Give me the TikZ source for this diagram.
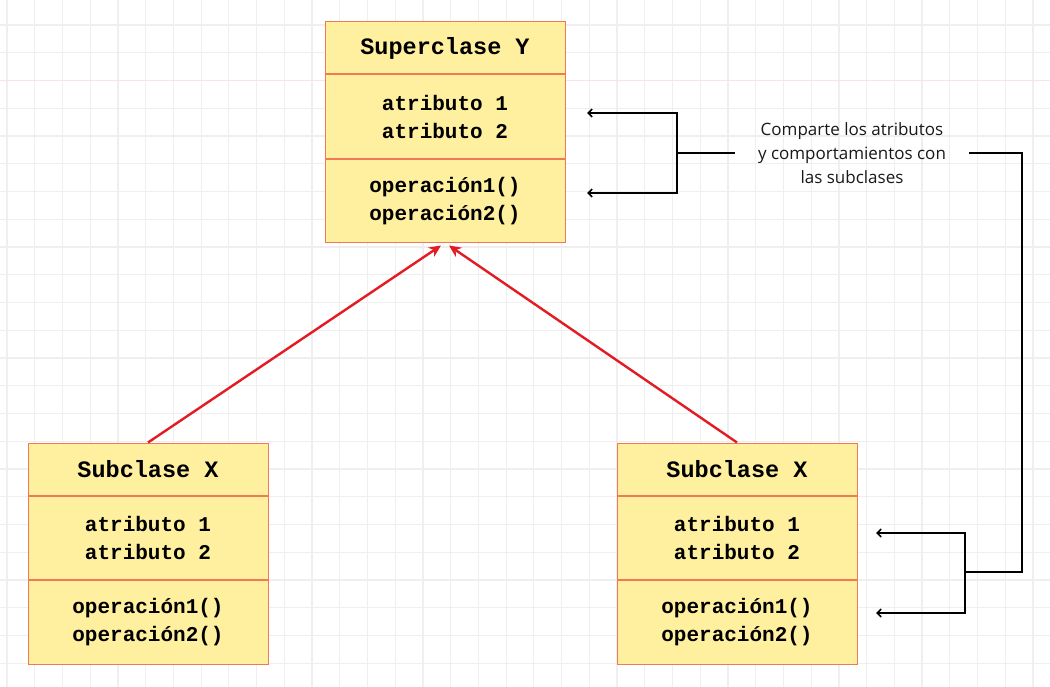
\documentclass[tikz,border=0pt]{standalone}
\usepackage{fontspec}
\setmainfont{Liberation Mono}
\newfontfamily\notefont{Open Sans}
\usetikzlibrary{arrows.meta,calc}
\definecolor{boxfill}{HTML}{FFF09F}
\definecolor{boxline}{HTML}{F07A55}
\definecolor{redarr}{HTML}{E31B23}
\definecolor{gridc}{HTML}{EFEFEF}
\definecolor{gridp}{HTML}{F6E4E8}
\tikzset{
  cls/.style={draw=boxline, fill=boxfill, line width=1pt, minimum width=240pt, inner sep=0pt, align=center,
    font=\bfseries\fontsize{21}{28}\selectfont},
  ttl/.style={cls, minimum height=52pt, font=\bfseries\fontsize{23.5}{28}\selectfont},
  sec/.style={cls, minimum height=83.5pt, anchor=north},
  inh/.style={draw=redarr, line width=2.4pt, -{Stealth[length=12pt,width=11pt]}},
  blk/.style={draw=black, line width=1.6pt},
  tip/.style={blk, -{Straight Barb[length=4pt,width=8pt]}},
  gline/.style={draw=gridc, line width=1.2pt},
}
\begin{document}
\begin{tikzpicture}[x=1pt,y=-1pt]
\useasboundingbox (0,0) rectangle (1050,687);
\fill[white] (0,0) rectangle (1050,687);
% grid
\foreach \i in {0,...,38} \draw[gline] ({7+27.73*\i},0) -- ({7+27.73*\i},687);
\foreach \j in {0,...,25} \draw[gline] (0,{-2.75+27.75*\j}) -- (1050,{-2.75+27.75*\j});
\draw[draw=gridp, line width=1.2pt] (0,80.5) -- (1050,80.5);

% superclass
\node[ttl] (supT) at (445,48) {Superclase Y};
\node[sec] (supA) at (supT.south) {atributo 1\\atributo 2};
\node[sec] (supO) at (supA.south) {operación1()\\operación2()};

% left subclass
\node[ttl] (lT) at (148,469) {Subclase X};
\node[sec] (lA) at (lT.south) {atributo 1\\atributo 2};
\node[sec] (lO) at (lA.south) {operación1()\\operación2()};

% right subclass
\node[ttl] (rT) at (737,469) {Subclase X};
\node[sec] (rA) at (rT.south) {atributo 1\\atributo 2};
\node[sec] (rO) at (rA.south) {operación1()\\operación2()};

% inheritance arrows
\draw[inh] (lT.north) -- ($(supO.south)+(-4,2)$);
\draw[inh] (rT.north) -- ($(supO.south)+(4,2)$);

% note
\node[inner xsep=23pt, inner ysep=0pt, align=center, text=black!90, font=\notefont\fontsize{17}{24}\selectfont] (note) at (852,153)
  {Comparte los atributos\\y comportamientos con\\las subclases};

\coordinate (jL) at (677,153);
\coordinate (tA1) at (587,113);
\coordinate (tA2) at (587,193);
\coordinate (jR) at (1022,572);
\coordinate (jB) at (965,572);
\coordinate (tB1) at (876,533);
\coordinate (tB2) at (876,613);

\draw[blk] (note.west) -- (jL);
\draw[tip] (jL) |- (tA1);
\draw[tip] (jL) |- (tA2);
\draw[blk] (note.east) -| (jR) -- (jB);
\draw[tip] (jB) |- (tB1);
\draw[tip] (jB) |- (tB2);
\end{tikzpicture}
\end{document}
